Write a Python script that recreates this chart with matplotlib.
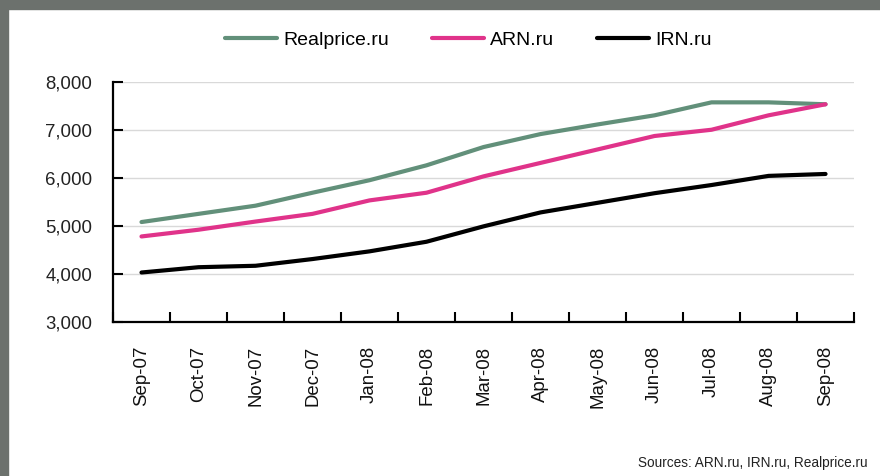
import matplotlib.pyplot as plt
import matplotlib.ticker as mticker
import numpy as np
from matplotlib.patches import Rectangle

# Data
months = ["Sep-07", "Oct-07", "Nov-07", "Dec-07", "Jan-08", "Feb-08", "Mar-08",
          "Apr-08", "May-08", "Jun-08", "Jul-08", "Aug-08", "Sep-08"]
realprice = [5080, 5250, 5420, 5690, 5950, 6260, 6640, 6910, 7110, 7300, 7570, 7570, 7530]
arn = [4780, 4920, 5090, 5250, 5530, 5690, 6030, 6310, 6590, 6870, 7000, 7300, 7530]
irn = [4030, 4140, 4170, 4310, 4470, 4670, 4990, 5280, 5480, 5680, 5850, 6040, 6080]

plt.rcParams['font.family'] = ['Liberation Sans', 'DejaVu Sans']

fig = plt.figure(figsize=(8.8, 4.76), dpi=100)
ax = fig.add_axes([0.1284, 0.3235, 0.8421, 0.5049])

x = np.arange(len(months))
ax.plot(x, realprice, color='#62907a', lw=3, label='Realprice.ru', solid_capstyle='round')
ax.plot(x, arn, color='#e0338a', lw=3, label='ARN.ru', solid_capstyle='round')
ax.plot(x, irn, color='black', lw=3, label='IRN.ru', solid_capstyle='round')

ax.set_xlim(-0.5, len(months) - 0.5)
ax.set_ylim(3000, 8000)
ax.set_yticks(range(3000, 8001, 1000))
ax.yaxis.set_major_formatter(mticker.FuncFormatter(lambda v, p: f'{int(v):,}'))
ax.yaxis.grid(True, color='#d9d9d9', lw=1.0)
ax.set_axisbelow(True)

ax.set_xticks(x)
ax.set_xticklabels(months, rotation=90, fontsize=13.4, color='#111111')
ax.set_xticks(np.arange(-0.5, len(months), 1), minor=True)
ax.tick_params(axis='x', which='major', length=0, pad=17)
ax.tick_params(axis='x', which='minor', direction='in', length=7, width=1.5)
ax.tick_params(axis='y', direction='in', length=7, width=1.5, pad=15,
               labelsize=13.4, labelcolor='#222222')

for s in ['top', 'right']:
    ax.spines[s].set_visible(False)
for s in ['left', 'bottom']:
    ax.spines[s].set_linewidth(1.6)

fig.legend(loc='center', bbox_to_anchor=(0.532, 0.916), ncol=3, frameon=False,
           fontsize=14, handlelength=2.7, handletextpad=0.3, columnspacing=2.2)

fig.text(0.986, 0.028, 'Sources: ARN.ru, IRN.ru, Realprice.ru', ha='right', va='center',
         fontsize=9.8, color='#222222')

# grey frame along the top and left edges
fig.patches.append(Rectangle((0, 1 - 8.7 / 476), 1, 8.7 / 476, transform=fig.transFigure,
                             color='#6c716d', zorder=10))
fig.patches.append(Rectangle((0, 0), 8 / 880, 1, transform=fig.transFigure,
                             color='#6c716d', zorder=10))

fig.savefig('out.png', dpi=100)
